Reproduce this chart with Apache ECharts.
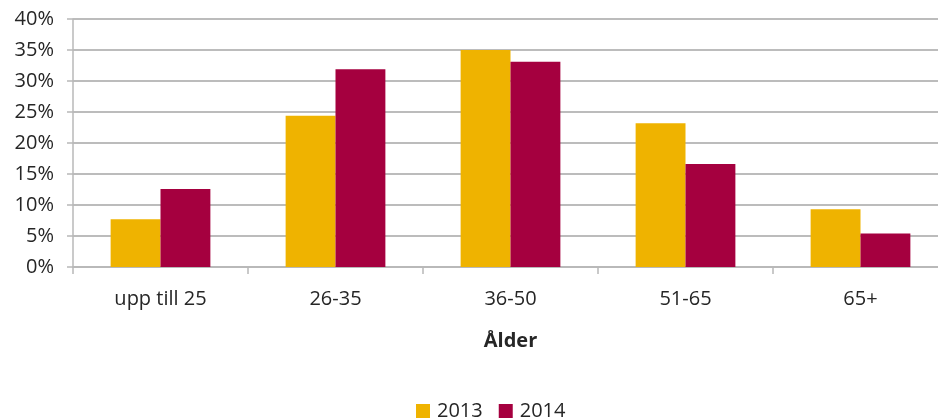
<!DOCTYPE html>
<html>
<head>
<meta charset="utf-8">
<script src="https://cdn.jsdelivr.net/npm/echarts@6/dist/echarts.min.js"></script>
<style>
  html, body { margin: 0; padding: 0; background: #fff; }
  #chart { width: 938px; height: 419px; }
</style>
</head>
<body>
<div id="chart"></div>
<script>
// Age groups and share of respondents per year
const categories = ['upp till 25', '26-35', '36-50', '51-65', '65+'];
const values2013 = [0.077, 0.244, 0.350, 0.232, 0.093];
const values2014 = [0.126, 0.319, 0.331, 0.166, 0.054];
const seriesNames = ['2013', '2014'];

const FONT = 'Open Sans';
const TEXT = '#262626';
const chart = echarts.init(document.getElementById('chart'));

chart.setOption({
  animation: false,
  textStyle: { fontFamily: FONT },
  color: ['#EFB300', '#A5003F'],
  // plot area runs slightly past the right edge of the canvas
  grid: {
    left: 73, top: 19, width: 875, height: 248,
    containLabel: false,
    outerBoundsMode: 'none'
  },
  legend: {
    top: 396,
    left: 411,
    icon: 'rect',
    itemWidth: 14,
    itemHeight: 14,
    itemGap: 16,
    textStyle: { fontSize: 20, color: TEXT, fontFamily: FONT, padding: [0, 0, 0, 2] },
    data: seriesNames
  },
  xAxis: {
    type: 'category',
    data: categories,
    name: 'Ålder',
    nameLocation: 'middle',
    nameGap: 64,
    nameTextStyle: { fontSize: 20, fontWeight: 'bold', color: TEXT, fontFamily: FONT },
    axisLine: { lineStyle: { color: '#b8b8b8', width: 1.5 } },
    axisTick: { show: true, length: 7, lineStyle: { color: '#b8b8b8', width: 1.5 } },
    axisLabel: { fontSize: 20, color: TEXT, margin: 22, fontFamily: FONT }
  },
  yAxis: {
    type: 'value',
    min: 0,
    max: 0.4,
    interval: 0.05,
    axisLine: { show: true, lineStyle: { color: '#b8b8b8', width: 1.5 } },
    axisTick: { show: true, length: 6, lineStyle: { color: '#b8b8b8', width: 1.5 } },
    splitLine: { lineStyle: { color: '#bcbcbc', width: 2 } },
    axisLabel: {
      fontSize: 20,
      color: TEXT,
      margin: 19,
      fontFamily: FONT,
      formatter: v => Math.round(v * 100) + '%'
    }
  },
  series: [
    { name: seriesNames[0], type: 'bar', data: values2013, barGap: '0%', barCategoryGap: '43%' },
    { name: seriesNames[1], type: 'bar', data: values2014, barGap: '0%', barCategoryGap: '43%' }
  ]
});
</script>
</body>
</html>
